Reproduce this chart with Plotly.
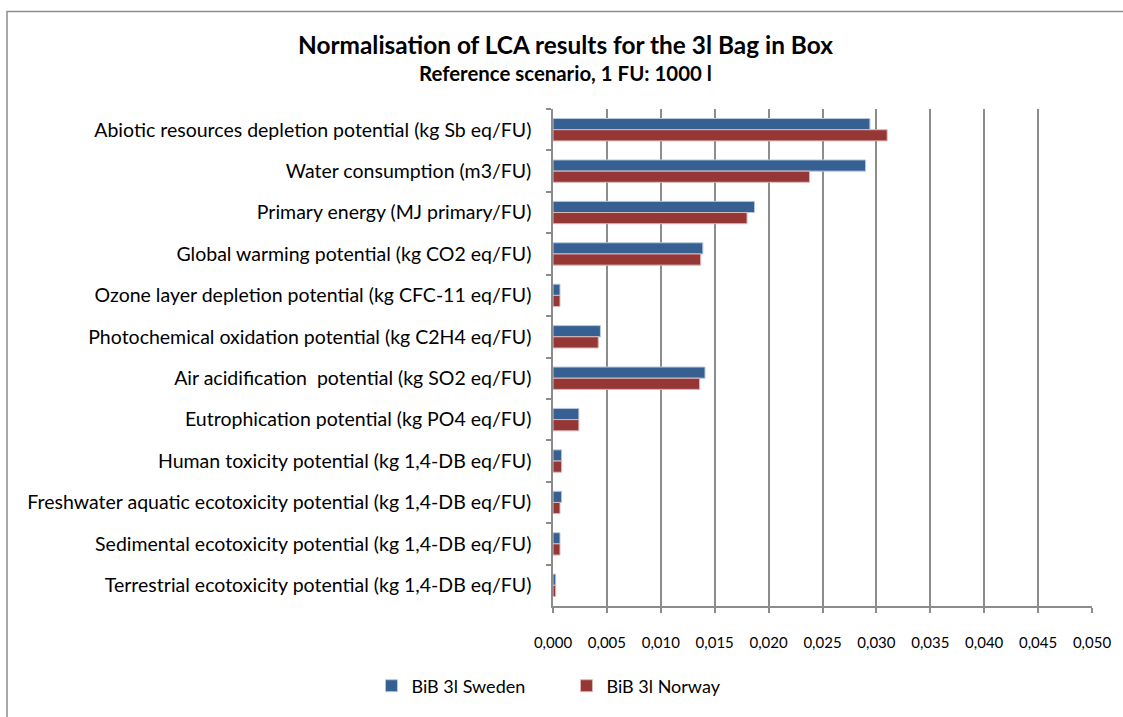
import plotly.graph_objects as go

categories = [
    "Abiotic resources depletion potential (kg Sb eq/FU)",
    "Water consumption (m3/FU)",
    "Primary energy (MJ primary/FU)",
    "Global warming potential (kg CO2 eq/FU)",
    "Ozone layer depletion potential (kg CFC-11 eq/FU)",
    "Photochemical oxidation potential (kg C2H4 eq/FU)",
    "Air acidification  potential (kg SO2 eq/FU)",
    "Eutrophication potential (kg PO4 eq/FU)",
    "Human toxicity potential (kg 1,4-DB eq/FU)",
    "Freshwater aquatic ecotoxicity potential (kg 1,4-DB eq/FU)",
    "Sedimental ecotoxicity potential (kg 1,4-DB eq/FU)",
    "Terrestrial ecotoxicity potential (kg 1,4-DB eq/FU)",
]
sweden = [0.0294, 0.0290, 0.0187, 0.0139, 0.00065, 0.0044, 0.0141, 0.0024, 0.0008, 0.0008, 0.00065, 0.00025]
norway = [0.0310, 0.0238, 0.0180, 0.0137, 0.00065, 0.0042, 0.0136, 0.0024, 0.0008, 0.00065, 0.00065, 0.00025]
x_ticks = [0.000, 0.005, 0.010, 0.015, 0.020, 0.025, 0.030, 0.035, 0.040, 0.045, 0.050]

FONT = "Lato"
grid = "#8c8c8c"

fig = go.Figure()
fig.add_trace(go.Bar(y=categories, x=sweden, orientation="h", name="BiB 3l Sweden",
                     marker=dict(color="#376092", line=dict(color="#b9c9df", width=1))))
fig.add_trace(go.Bar(y=categories, x=norway, orientation="h", name="BiB 3l Norway",
                     marker=dict(color="#953735", line=dict(color="#e0b8b7", width=1))))

# chart area frame (Excel style)
fig.add_shape(type="rect", xref="paper", yref="paper",
              x0=-1.013, x1=1.06, y0=-0.3, y1=1.196,
              line=dict(color="#8c8c8c", width=1.5), fillcolor="rgba(0,0,0,0)", layer="above")

fig.add_annotation(text="<b>Normalisation of LCA results for the 3l Bag in Box</b>",
                   xref="paper", yref="paper", x=0.023, y=1.1295, showarrow=False,
                   xanchor="center", yanchor="middle", font=dict(family=FONT, size=24.4, color="black"))
fig.add_annotation(text="<b>Reference scenario, 1 FU: 1000 l</b>",
                   xref="paper", yref="paper", x=0.023, y=1.0717, showarrow=False,
                   xanchor="center", yanchor="middle", font=dict(family=FONT, size=20.4, color="black"))

fig.update_layout(
    width=1123, height=717,
    margin=dict(l=553, r=31, t=109, b=106),
    paper_bgcolor="white", plot_bgcolor="white",
    separators=", ",
    barmode="group", bargap=0.46, bargroupgap=0,
    font=dict(family=FONT, size=15, color="black"),
    legend=dict(orientation="h", x=0.025, y=-0.161, xanchor="center", yanchor="middle",
                font=dict(family=FONT, size=18), itemwidth=30, entrywidth=150,
                traceorder="normal"),
    xaxis=dict(range=[0, 0.050], tickvals=x_ticks, tickformat=".3f",
               showgrid=True, gridcolor=grid, gridwidth=1.5,
               showline=True, linecolor=grid, linewidth=1.5,
               ticks="outside", ticklen=5, tickcolor=grid, tickwidth=1.5,
               ticklabelstandoff=17, tickfont=dict(family=FONT, size=15), zeroline=False),
    yaxis=dict(autorange="reversed", showline=True, linecolor=grid, linewidth=1.5,
               ticks="outside", ticklen=5, tickcolor=grid, tickwidth=1.5, tickson="boundaries",
               ticklabelstandoff=16, tickfont=dict(family=FONT, size=19.5), showgrid=False),
)

fig.write_html("out.html", config={"displayModeBar": False},
               post_script="document.body.style.margin='0';")
